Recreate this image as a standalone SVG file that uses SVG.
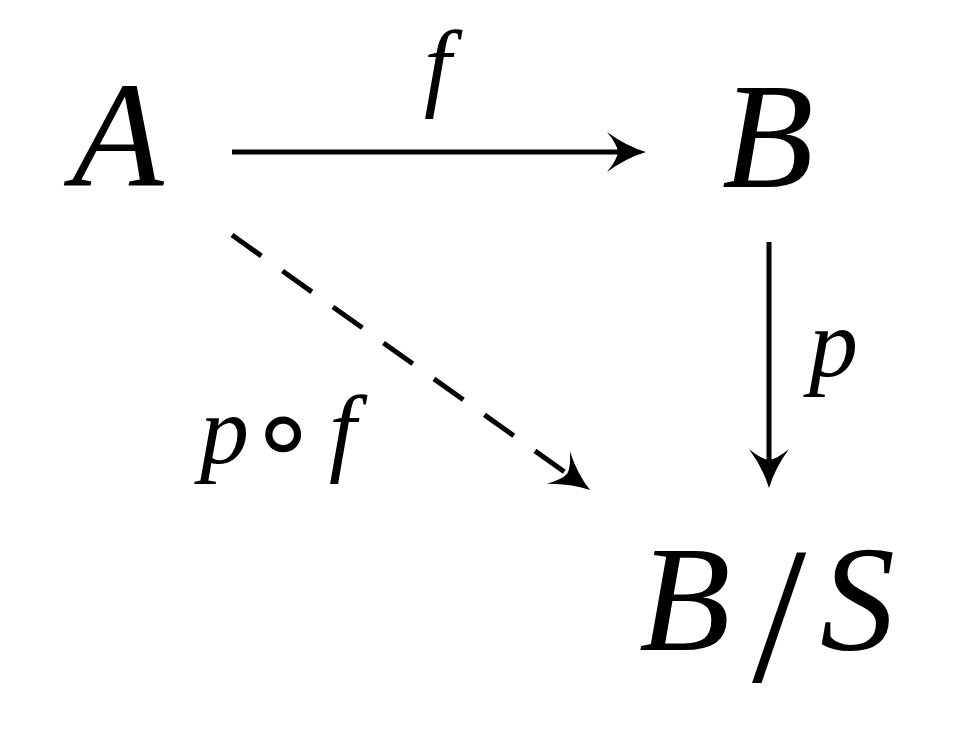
<svg xmlns="http://www.w3.org/2000/svg" width="970" height="739" viewBox="0 0 970 739">
<style>
.node{font-family:"Liberation Serif","Times New Roman",serif;font-style:italic;font-size:150px;fill:#000}
.lbl{font-family:"Liberation Serif","Times New Roman",serif;font-style:italic;font-size:98px;fill:#000}
.edge{stroke:#000;stroke-width:5;fill:none}
.dash{stroke-dasharray:36 26}
</style>
<defs>
<marker id="ah" markerUnits="userSpaceOnUse" viewBox="0 -22 44 44" refX="12" refY="0" markerWidth="44" markerHeight="44" orient="auto">
<path d="M40,0 Q20,-6 1,-20 Q11,-8 12,0 Q11,8 1,20 Q20,6 40,0 Z" fill="#000"/>
</marker>
</defs>
<rect width="970" height="739" fill="#fff"/>
<g id="A"><text class="node" x="72" y="185">A</text></g>
<g id="B"><text class="node" x="722" y="187">B</text></g>
<g id="BS"><text class="node"><tspan x="639" y="650">B</tspan><tspan x="752" y="681" style="font-style:normal;font-size:195px">/</tspan><tspan x="820" y="650">S</tspan></text></g>
<g id="connectors">
<line class="edge" x1="232" y1="152" x2="618" y2="152" marker-end="url(#ah)"/>
<line class="edge" x1="769" y1="242" x2="769" y2="460" marker-end="url(#ah)"/>
<line class="edge dash" x1="232" y1="235" x2="567.2" y2="473.8" marker-end="url(#ah)"/>
</g>
<g id="labels">
<text class="lbl" x="424" y="98">f</text>
<text class="lbl" x="809" y="376">p</text>
<text class="lbl"><tspan x="200" y="463">p</tspan><tspan x="247" y="471" style="font-family:'DejaVu Sans',sans-serif;font-style:normal;font-size:116px">∘</tspan><tspan x="329" y="463">f</tspan></text>
</g>
</svg>
